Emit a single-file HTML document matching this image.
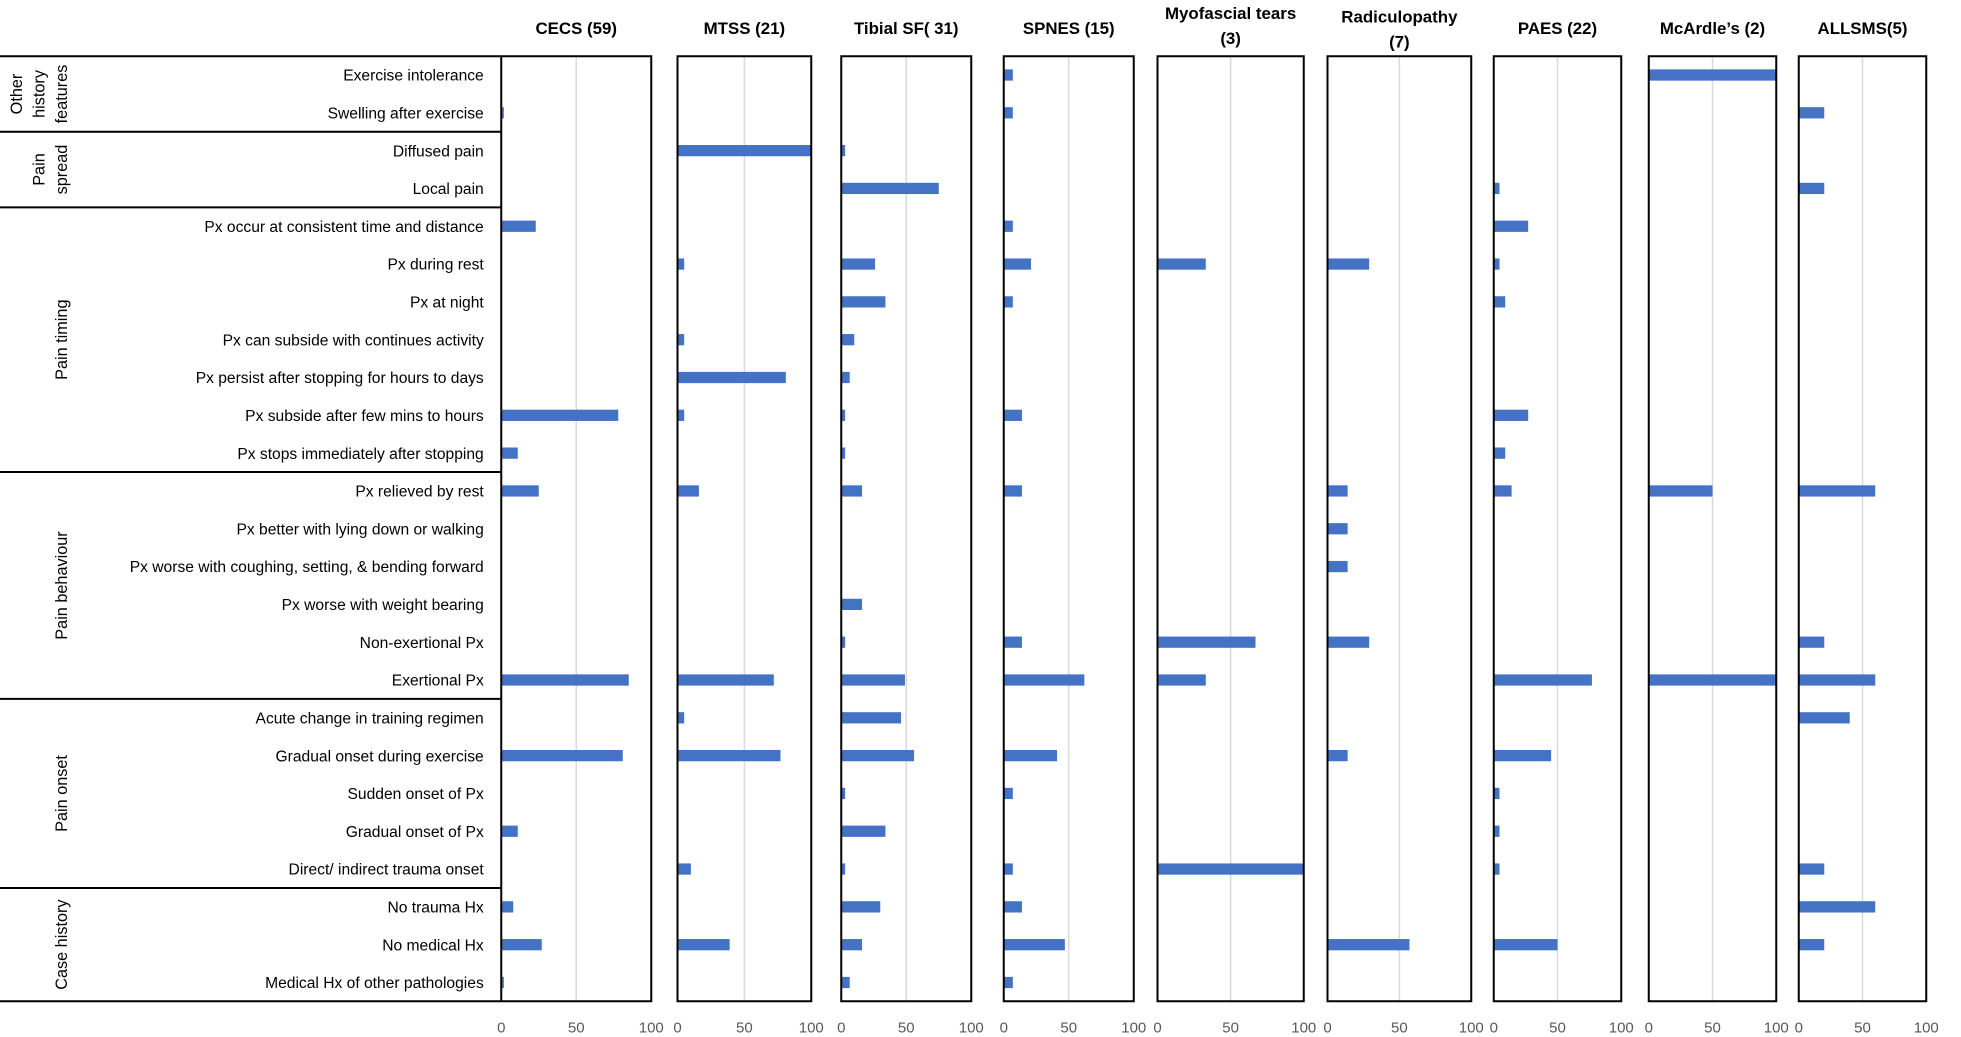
<!DOCTYPE html>
<html><head><meta charset="utf-8"><style>
html,body{margin:0;padding:0;background:#fff;}
svg{display:block;font-family:"Liberation Sans",sans-serif;}
</style></head><body>
<svg id="chart" width="1961" height="1037" viewBox="0 0 1568.8 829.6" xmlns="http://www.w3.org/2000/svg"></svg>
<script>
const rowLabels=["Exercise intolerance","Swelling after exercise","Diffused pain","Local pain","Px occur at consistent time and distance","Px during rest","Px at night","Px can subside with continues activity","Px persist after stopping for hours to days","Px subside after few mins to hours","Px stops immediately after stopping","Px relieved by rest","Px better with lying down or walking","Px worse with coughing, setting, & bending forward","Px worse with weight bearing","Non-exertional Px","Exertional Px","Acute change in training regimen","Gradual onset during exercise","Sudden onset of Px","Gradual onset of Px","Direct/ indirect trauma onset","No trauma Hx","No medical Hx","Medical Hx of other pathologies"];
const panelTitles=[["CECS (59)"],["MTSS (21)"],["Tibial SF( 31)"],["SPNES (15)"],["Myofascial tears","(3)"],["Radiculopathy","(7)"],["PAES (22)"],["McArdle’s (2)"],["ALLSMS(5)"]];
const cecs=[0,1.7,0,0,23,0,0,0,0,78,11,25,0,0,0,0,85,0,81,0,11,0,8,27,1.7];
const mtss=[0,0,100,0,0,5,0,5,81,5,0,16,0,0,0,0,72,5,77,0,0,10,0,39,0];
const tibial=[0,0,3,75,0,26,34,10,6.5,3,3,16,0,0,16,3,49,46,56,3,34,3,30,16,6.5];
const spnes=[7,7,0,0,7,21,7,0,0,14,0,14,0,0,0,14,62,0,41,7,0,7,14,47,7];
const myo=[0,0,0,0,0,33,0,0,0,0,0,0,0,0,0,67,33,0,0,0,0,100,0,0,0];
const radic=[0,0,0,0,0,29,0,0,0,0,0,14,14,14,0,29,0,0,14,0,0,0,0,57,0];
const paes=[0,0,0,4.5,27,4.5,9,0,0,27,9,14,0,0,0,0,77,0,45,4.5,4.5,4.5,0,50,0];
const mcardle=[100,0,0,0,0,0,0,0,0,0,0,50,0,0,0,0,100,0,0,0,0,0,0,0,0];
const allsms=[0,20,0,20,0,0,0,0,0,0,0,60,0,0,0,20,60,40,0,0,0,20,60,20,0];
const tickLabels=["0","50","100"];
const groupNames=[["Other","history","features"],["Pain","spread"],["Pain timing"],["Pain behaviour"],["Pain onset"],["Case history"]];
const groupRows=[[0,1],[2,3],[4,10],[11,16],[17,21],[22,24]];

const series=[cecs,mtss,tibial,spnes,myo,radic,paes,mcardle,allsms];
const panelX=[[401,521],[542,649],[673,777],[803,907],[926,1043],[1062,1177],[1195,1297],[1319,1421],[1439,1541]];
const NS="http://www.w3.org/2000/svg";
const svg=document.getElementById('chart');
function mk(tag,attrs,parent){const e=document.createElementNS(NS,tag);for(const k in attrs)e.setAttribute(k,attrs[k]);(parent||svg).appendChild(e);return e;}
const top0=45,bot0=801,rowY0=60,rowStep=30.25;
function yRow(i){return rowY0+i*rowStep;}
function sepY(r){return r<0?top0:(yRow(r)+yRow(r+1))/2;}

// left table
let t=mk('line',{x1:0,y1:top0,x2:401,y2:top0,stroke:'#000','stroke-width':1.6});


groupRows.forEach((g,gi)=>{
  const yb=gi===groupRows.length-1?bot0:sepY(g[1]);
  const l=mk('line',{x1:0,y1:yb,x2:401,y2:yb,stroke:'#000','stroke-width':1.6});
  
  
  const yt=gi===0?top0:sepY(groupRows[gi-1][1]);
  const cy=(yt+yb)/2;
  const lines=groupNames[gi];
  const n=lines.length;
  lines.forEach((s,li)=>{
    const cx=50-(n-1-li)*18;
    const tx=mk('text',{x:cx,y:cy,'font-size':13,'text-anchor':'middle','dominant-baseline':'middle',transform:`rotate(-90 ${cx} ${cy})`});
    tx.textContent=s;
    
    
  });
});
rowLabels.forEach((s,i)=>{
  const tx=mk('text',{x:387,y:yRow(i)+4.5,'font-size':12.5,'text-anchor':'end'});
  tx.textContent=s;
  
  
});

// panels
series.forEach((vals,pi)=>{
  const [x0,x1]=panelX[pi];
  const xs=v=>x0+(x1-x0)*v/100;
  const g=mk('g',{});
  
  
  const grid=mk('line',{x1:xs(50),y1:top0,x2:xs(50),y2:bot0,stroke:'#d9d9d9','stroke-width':1.2},g);
  
  
  vals.forEach((v,i)=>{
    if(v<=0)return;
    const r=mk('rect',{x:x0,y:yRow(i)-4.5,width:xs(v)-x0,height:9,fill:'#4472c4'},g);
    
    
  });
  const box=mk('rect',{x:x0,y:top0,width:x1-x0,height:bot0-top0,fill:'none',stroke:'#000','stroke-width':1.6},g);
  
  
  tickLabels.forEach(tl=>{
    const tx=mk('text',{x:xs(+tl),y:826,'font-size':12,'text-anchor':'middle',fill:'#595959'},g);
    tx.textContent=tl;
    
    
  });
  const tl=panelTitles[pi];
  const cx=(x0+x1)/2;
  tl.forEach((s,li)=>{
    const y=tl.length===1?27:(pi===5?18:15)+li*20;
    const tx=mk('text',{x:cx,y:y,'font-size':13.5,'font-weight':'bold','text-anchor':'middle'},g);
    tx.textContent=s;
    
    
  });
});
</script>
</body></html>
